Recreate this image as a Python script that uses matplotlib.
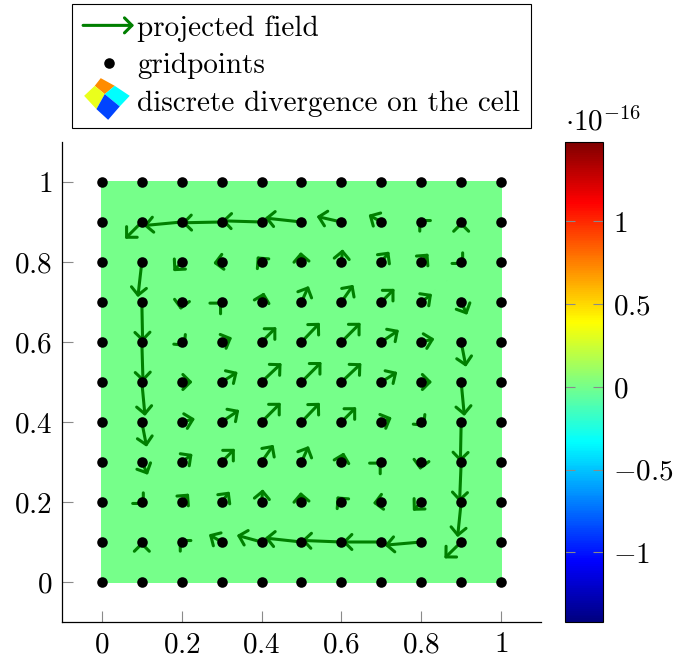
import numpy as np
import matplotlib
matplotlib.use('Agg')
import matplotlib.pyplot as plt
from matplotlib.patches import FancyArrowPatch, Polygon, ArrowStyle
from matplotlib.colors import LinearSegmentedColormap, Normalize
from matplotlib.legend_handler import HandlerBase
from matplotlib.lines import Line2D

plt.rcParams['font.family'] = ['cmr10', 'DejaVu Serif']
plt.rcParams['mathtext.fontset'] = 'cm'
plt.rcParams['axes.formatter.use_mathtext'] = True

# ---------------- data ----------------
grid_x = [0.0, 0.1, 0.2, 0.3, 0.4, 0.5, 0.6, 0.7, 0.8, 0.9, 1.0]
grid_y = [0.0, 0.1, 0.2, 0.3, 0.4, 0.5, 0.6, 0.7, 0.8, 0.9, 1.0]

# arrow positions (interior grid points); rows listed from top (y=0.9) to bottom (y=0.1)
arrow_x = [0.1, 0.2, 0.3, 0.4, 0.5, 0.6, 0.7, 0.8, 0.9]
arrow_y = [0.9, 0.8, 0.7, 0.6, 0.5, 0.4, 0.3, 0.2, 0.1]

U = [
    [-0.042, -0.096, -0.100, -0.100, -0.092, -0.062, -0.032, -0.0075, 0.000],
    [-0.010, -0.021, -0.021, -0.012, -0.002, 0.003, 0.020, 0.018, 0.0075],
    [0.002, -0.003, 0.001, 0.006, 0.018, 0.030, 0.033, 0.027, 0.015],
    [0.003, 0.010, 0.026, 0.037, 0.046, 0.048, 0.044, 0.033, 0.012],
    [0.008, 0.027, 0.040, 0.050, 0.050, 0.050, 0.040, 0.027, 0.008],
    [0.012, 0.033, 0.044, 0.048, 0.046, 0.037, 0.026, 0.010, -0.002],
    [0.015, 0.027, 0.033, 0.030, 0.018, 0.006, 0.001, -0.003, -0.004],
    [0.0075, 0.018, 0.020, 0.003, -0.002, -0.012, -0.021, -0.021, -0.009],
    [0.000, -0.0075, -0.032, -0.062, -0.092, -0.100, -0.098, -0.092, -0.042],
]
V = [
    [-0.042, -0.009, -0.002, 0.003, 0.010, 0.014, 0.018, 0.0075, 0.001],
    [-0.088, -0.023, -0.003, 0.014, 0.025, 0.032, 0.026, 0.021, -0.0075],
    [-0.100, -0.020, 0.001, 0.024, 0.040, 0.043, 0.033, 0.020, -0.032],
    [-0.100, -0.012, 0.011, 0.037, 0.048, 0.048, 0.030, 0.008, -0.062],
    [-0.085, 0.000, 0.025, 0.047, 0.050, 0.047, 0.025, 0.000, -0.085],
    [-0.062, 0.008, 0.030, 0.048, 0.048, 0.037, 0.011, -0.012, -0.100],
    [-0.032, 0.020, 0.033, 0.043, 0.040, 0.024, 0.001, -0.020, -0.100],
    [-0.0075, 0.021, 0.026, 0.032, 0.025, 0.014, -0.003, -0.022, -0.088],
    [0.001, 0.0075, 0.019, 0.017, 0.010, 0.004, 0.000, -0.008, -0.041],
]

# discrete divergence per cell (units of 1e-16), rows bottom to top
divergence = [
    [0.0, 0.0, 0.0, 0.0, 0.0, 0.0, 0.0, 0.0, 0.0, 0.0],
    [0.0, 0.0, 0.0, 0.0, 0.0, 0.0, 0.0, 0.0, 0.0, 0.0],
    [0.0, 0.0, 0.0, 0.0, 0.0, 0.0, 0.0, 0.0, 0.0, 0.0],
    [0.0, 0.0, 0.0, 0.0, 0.0, 0.0, 0.0, 0.0, 0.0, 0.0],
    [0.0, 0.0, 0.0, 0.0, 0.0, 0.0, 0.0, 0.0, 0.0, 0.0],
    [0.0, 0.0, 0.0, 0.0, 0.0, 0.0, 0.0, 0.0, 0.0, 0.0],
    [0.0, 0.0, 0.0, 0.0, 0.0, 0.0, 0.0, 0.0, 0.0, 0.0],
    [0.0, 0.0, 0.0, 0.0, 0.0, 0.0, 0.0, 0.0, 0.0, 0.0],
    [0.0, 0.0, 0.0, 0.0, 0.0, 0.0, 0.0, 0.0, 0.0, 0.0],
    [0.0, 0.0, 0.0, 0.0, 0.0, 0.0, 0.0, 0.0, 0.0, 0.0],
]
cbar_min, cbar_max = -1.42, 1.48
cbar_ticks = [-1, -0.5, 0, 0.5, 1]
cbar_ticklabels = ['$-1$', '$-0.5$', '$0$', '$0.5$', '$1$']
axis_ticks = [0, 0.2, 0.4, 0.6, 0.8, 1.0]
axis_ticklabels = ['$0$', '$0.2$', '$0.4$', '$0.6$', '$0.8$', '$1$']
legend_labels = ['projected field', 'gridpoints', 'discrete divergence on the cell']

# ---------------- style ----------------
FS = 21
GREEN = '#007f00'
TICK_GRAY = '#8a8a8a'
jet_pgf = LinearSegmentedColormap.from_list('jetpgf', [
    (0.0, (0, 0, 0.5)), (1 / 8, (0, 0, 1)), (3 / 8, (0, 1, 1)),
    (5 / 8, (1, 1, 0)), (7 / 8, (1, 0, 0)), (1.0, (0.5, 0, 0))])
norm = Normalize(vmin=cbar_min, vmax=cbar_max)
arrow_style = ArrowStyle('->', head_length=0.4, head_width=0.4)
ARROW_MS = 13.5
ARROW_LW = 2.2

W, H = 674, 657
fig = plt.figure(figsize=(W / 100, H / 100), dpi=100)
ax = fig.add_axes([62 / W, 35 / H, 479 / W, 480 / H])
ax.set_xlim(-0.1, 1.1)
ax.set_ylim(-0.1, 1.1)

mesh = ax.pcolormesh(grid_x, grid_y, np.array(divergence), cmap=jet_pgf, norm=norm,
                     shading='flat', edgecolors='face', linewidth=0.3, zorder=1)

for j, yv in enumerate(arrow_y):
    for i, xv in enumerate(arrow_x):
        ax.add_patch(FancyArrowPatch((xv, yv), (xv + U[j][i], yv + V[j][i]),
                                     arrowstyle=arrow_style, mutation_scale=ARROW_MS,
                                     lw=ARROW_LW, color=GREEN, shrinkA=0, shrinkB=0,
                                     zorder=3))

GX, GY = np.meshgrid(grid_x, grid_y)
ax.plot(GX.ravel(), GY.ravel(), 'o', color='black', ms=7.6, mew=0, zorder=4,
        clip_on=False)

for s in ['top', 'right']:
    ax.spines[s].set_visible(False)
for s in ['left', 'bottom']:
    ax.spines[s].set_linewidth(0.9)
ax.set_xticks(axis_ticks)
ax.set_xticklabels(axis_ticklabels)
ax.set_yticks(axis_ticks)
ax.set_yticklabels(axis_ticklabels)
ax.tick_params(direction='in', length=7.7, width=0.8, color=TICK_GRAY, pad=7,
               labelsize=FS)

# ---------------- colorbar ----------------
cax = fig.add_axes([565 / W, 35 / H, 38 / W, 480 / H])
cb = fig.colorbar(mesh, cax=cax, ticks=cbar_ticks)
cb.ax.set_yticklabels(cbar_ticklabels)
cb.outline.set_linewidth(0.8)
cax.tick_params(direction='in', left=True, right=True, labelleft=False,
                labelright=True, length=7.5, width=0.8, color=TICK_GRAY, pad=7,
                labelsize=FS)
cax.text(0.0, 1.025, r'$\cdot10^{-16}$', transform=cax.transAxes, ha='left',
         va='baseline', fontsize=FS)


# ---------------- legend ----------------
class ArrowHandler(HandlerBase):
    def create_artists(self, legend, orig_handle, xdescent, ydescent, width, height,
                       fontsize, trans):
        y = height / 2 - ydescent
        p = FancyArrowPatch((-xdescent, y), (-xdescent + width, y),
                            arrowstyle=arrow_style, mutation_scale=ARROW_MS,
                            lw=ARROW_LW, color=GREEN, shrinkA=0, shrinkB=0,
                            transform=trans)
        return [p]


class SurfHandler(HandlerBase):
    # icon vertices in points relative to icon centre
    pts = {
        'T': (-6.2, 20.85), 'TL': (-12.2, 13.15), 'TR': (7.8, 13.15),
        'C': (-2.2, 4.85), 'L': (-22.8, 3.15), 'R': (22.8, 3.15),
        'BL': (-10.5, -10.15), 'BR': (12.8, -7.45), 'B': (1.2, -20.85)}
    cells = [(('T', 'TR', 'C', 'TL'), '#ff8c00'),
             (('TR', 'R', 'BR', 'C'), '#00ffff'),
             (('TL', 'C', 'BL', 'L'), '#eaff1c'),
             (('C', 'BR', 'B', 'BL'), '#0044ff')]

    def create_artists(self, legend, orig_handle, xdescent, ydescent, width, height,
                       fontsize, trans):
        cx = -xdescent + width / 2 - 1.2
        cy = height / 2 - ydescent + 1.0
        arts = []
        for names, col in self.cells:
            verts = [(cx + self.pts[n][0] * 0.72, cy + self.pts[n][1] * 0.72)
                     for n in names]
            arts.append(Polygon(verts, closed=True, facecolor=col, edgecolor='none',
                                transform=trans))
        return arts


class SurfProxy:
    pass


class ArrowProxy:
    pass


dot_proxy = Line2D([], [], marker='o', ls='none', color='black', ms=7.6, mew=0)
arrow_proxy = ArrowProxy()
surf_proxy = SurfProxy()
leg = fig.legend([arrow_proxy, dot_proxy, surf_proxy], legend_labels,
                 loc='upper left', bbox_to_anchor=(72 / W, 1 - 4 / H),
                 bbox_transform=fig.transFigure, borderaxespad=0, frameon=True,
                 fancybox=False, edgecolor='black', framealpha=1,
                 handlelength=1.75, handletextpad=0.1, borderpad=0.38,
                 labelspacing=0.38, fontsize=FS,
                 handler_map={ArrowProxy: ArrowHandler(), SurfProxy: SurfHandler()})
leg.get_frame().set_linewidth(0.8)

fig.savefig('out.png', dpi=100)
